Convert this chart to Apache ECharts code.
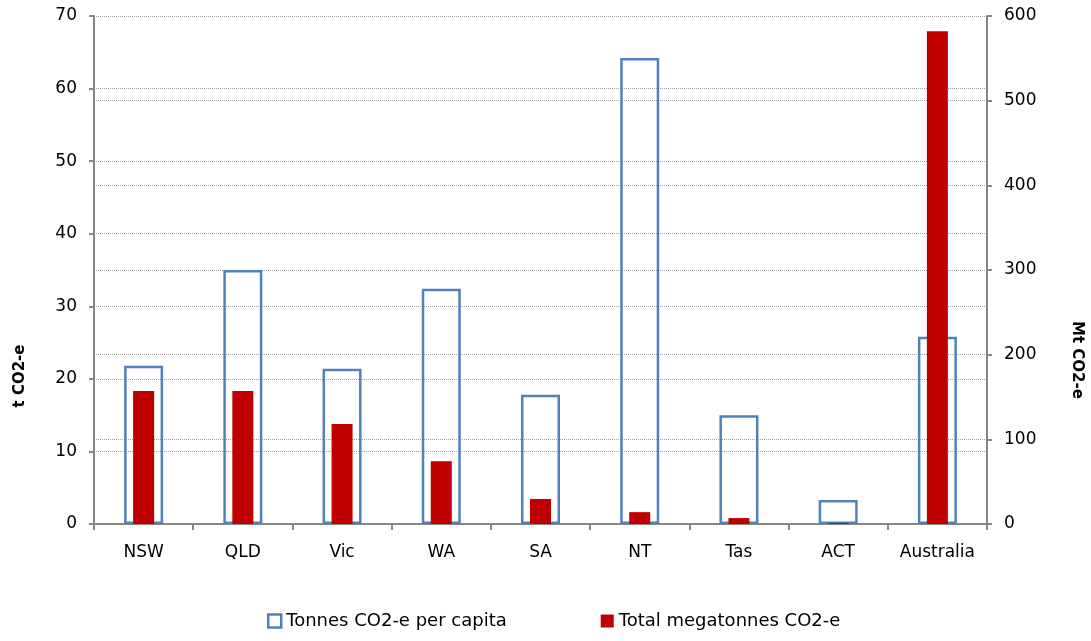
<!DOCTYPE html>
<html><head><meta charset="utf-8">
<script src="https://cdn.jsdelivr.net/npm/echarts@6/dist/echarts.min.js"></script>
<style>html,body{margin:0;padding:0;background:#fff}#c{width:1091px;height:641px}</style>
</head><body><div id="c"></div>
<script>
const categories = ['NSW','QLD','Vic','WA','SA','NT','Tas','ACT','Australia'];
const perCapita = [21.8, 35.0, 21.4, 32.4, 17.8, 64.2, 15.0, 3.3, 25.8];
const totalMt = [157, 157, 118, 74, 29.5, 14, 7, 1, 582];
const leftTicks = {min:0, max:70, interval:10};
const rightTicks = {min:0, max:600, interval:100};
const leftName = 't CO2-e';
const rightName = 'Mt CO2-e';

const FONT = '"DejaVu Sans", "Liberation Sans", sans-serif';
const chart = echarts.init(document.getElementById('c'));
chart.setOption({
  animation:false,
  textStyle:{fontFamily:FONT},
  grid:{left:94, right:104, top:16, bottom:117},
  legend:{
    left:262, bottom:6, itemGap:94, itemWidth:13, itemHeight:13,
    textStyle:{fontSize:18, color:'#000', fontFamily:FONT},
    data:[
      {name:'Tonnes CO2-e per capita', icon:'rect', itemStyle:{color:'#fff', borderColor:'#4F81BD', borderWidth:2.5}},
      {name:'Total megatonnes CO2-e', icon:'rect'}
    ]
  },
  graphic:[
    {type:'text', x:20, y:376, rotation:Math.PI/2,
     style:{text:leftName, font:'bold 15px ' + FONT, fill:'#000', textAlign:'center', textVerticalAlign:'middle'}},
    {type:'text', x:1077, y:360, rotation:-Math.PI/2,
     style:{text:rightName, font:'bold 15px ' + FONT, fill:'#000', textAlign:'center', textVerticalAlign:'middle'}}
  ],
  xAxis:[
    {type:'category', data:categories,
     axisLine:{lineStyle:{color:'#868686', width:2}},
     axisTick:{show:true, length:6, lineStyle:{color:'#868686', width:2}},
     axisLabel:{fontSize:17, color:'#000', margin:20}},
    {type:'category', data:categories, show:false}
  ],
  yAxis:[
    {type:'value', min:leftTicks.min, max:leftTicks.max, interval:leftTicks.interval,
     axisLine:{show:true, lineStyle:{color:'#868686', width:2}},
     axisTick:{show:true, length:5, lineStyle:{color:'#868686', width:2}},
     axisLabel:{fontSize:17, color:'#000', margin:17},
     splitLine:{show:true, lineStyle:{color:'#a0a0a0', type:'dotted', width:1}}},
    {type:'value', min:rightTicks.min, max:rightTicks.max, interval:rightTicks.interval,
     position:'right',
     axisLine:{show:true, lineStyle:{color:'#868686', width:2}},
     axisTick:{show:true, length:5, lineStyle:{color:'#868686', width:2}},
     axisLabel:{fontSize:17, color:'#000', margin:17},
     splitLine:{show:true, lineStyle:{color:'#a0a0a0', type:'dotted', width:1}}}
  ],
  series:[
    {name:'Tonnes CO2-e per capita', type:'bar', xAxisIndex:0, yAxisIndex:0,
     data:perCapita, barWidth:39,
     itemStyle:{color:'rgba(255,255,255,0)', borderColor:'#4F81BD', borderWidth:2.5}},
    {name:'Total megatonnes CO2-e', type:'bar', xAxisIndex:1, yAxisIndex:1,
     data:totalMt, barWidth:21,
     itemStyle:{color:'#C00000'}}
  ]
});
</script></body></html>
